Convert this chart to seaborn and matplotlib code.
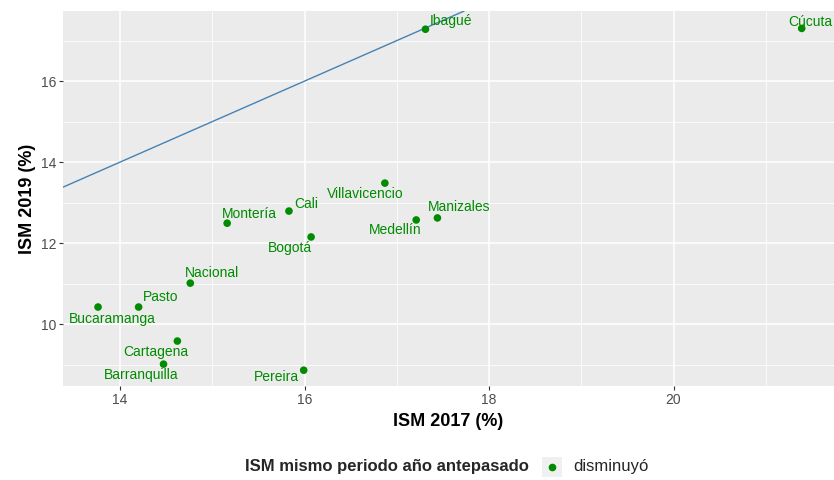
import matplotlib
matplotlib.use("Agg")
import matplotlib.pyplot as plt
from matplotlib.patches import Rectangle
from matplotlib.lines import Line2D
import seaborn as sns
import pandas as pd

# data
ciudades = ["Ibagué", "Cúcuta", "Villavicencio", "Cali", "Montería", "Bogotá",
            "Medellín", "Manizales", "Nacional", "Pasto", "Bucaramanga",
            "Cartagena", "Barranquilla", "Pereira"]
ism_2017 = [17.31, 21.39, 16.87, 15.83, 15.16, 16.07,
            17.21, 17.44, 14.76, 14.20, 13.76,
            14.62, 14.47, 15.99]
ism_2019 = [17.28, 17.30, 13.48, 12.79, 12.49, 12.15,
            12.57, 12.62, 11.01, 10.42, 10.42,
            9.58, 9.01, 8.86]
estado = ["disminuyó"] * len(ciudades)

# label offsets in pixels (ggrepel-like placement)
offsets = {
    "Ibagué": (26, 8), "Cúcuta": (9, 6), "Villavicencio": (-20, -11),
    "Cali": (17, 7), "Montería": (22, 9), "Bogotá": (-21, -11),
    "Medellín": (-21, -10), "Manizales": (22, 11), "Nacional": (22, 10),
    "Pasto": (22, 10), "Bucaramanga": (14, -12), "Cartagena": (-22, -11),
    "Barranquilla": (-22, -11), "Pereira": (-27, -7),
}

df = pd.DataFrame({"ciudad": ciudades, "ism_2017": ism_2017,
                   "ism_2019": ism_2019, "estado": estado})

verde = "#008B00"

sns.set_theme(style="darkgrid", rc={
    "axes.facecolor": "#EBEBEB",
    "grid.color": "white",
    "axes.edgecolor": "#EBEBEB",
    "xtick.color": "#333333",
    "ytick.color": "#333333",
    "xtick.bottom": True,
    "ytick.left": True,
    "xtick.major.size": 3,
    "ytick.major.size": 3,
    "xtick.major.width": 0.8,
    "ytick.major.width": 0.8,
})
plt.rcParams["font.family"] = ["Liberation Sans", "DejaVu Sans"]

fig, ax = plt.subplots(figsize=(8.34, 4.8), dpi=100)
fig.subplots_adjust(left=63 / 834, right=1.0, top=1 - 11 / 480, bottom=1 - 386 / 480)

ax.axline((14, 14), slope=1, color="#4682B4", lw=1.0, zorder=2)

sns.scatterplot(data=df, x="ism_2017", y="ism_2019", hue="estado",
                palette={"disminuyó": verde}, s=30, edgecolor="none",
                legend=False, ax=ax, zorder=3)

for _, r in df.iterrows():
    dx, dy = offsets[r["ciudad"]]
    ax.annotate(r["ciudad"], (r["ism_2017"], r["ism_2019"]),
                xytext=(dx, dy), textcoords="offset pixels",
                ha="center", va="center", fontsize=10, color=verde, zorder=4)

ax.set_xlim(13.38, 21.74)
ax.set_ylim(8.47, 17.73)
ax.set_xticks([14, 16, 18, 20])
ax.set_yticks([10, 12, 14, 16])
ax.set_xticks([15, 17, 19, 21], minor=True)
ax.set_yticks([9, 11, 13, 15, 17], minor=True)
ax.grid(which="major", color="white", lw=1.1)
ax.grid(which="minor", color="white", lw=0.55)
ax.tick_params(which="minor", length=0)
ax.tick_params(axis="both", labelsize=10, labelcolor="#4D4D4D", pad=2)
for s in ax.spines.values():
    s.set_visible(False)

ax.set_xlabel("ISM 2017 (%)", fontsize=13, fontweight="bold", color="black")
ax.set_ylabel("ISM 2019 (%)", fontsize=13, fontweight="bold", color="black")
ax.xaxis.set_label_coords(0.5, -(413 - 386) / 375)
ax.yaxis.set_label_coords(-(63 - 36) / 771, 0.5)

# legend at the bottom, title to the left of the key
fig.text(245 / 834, 1 - 467 / 480, "ISM mismo periodo año antepasado",
         fontsize=12, fontweight="bold", ha="left", va="center")
fig.patches.append(Rectangle((542 / 834, 1 - 477 / 480), 20 / 834, 20 / 480,
                             transform=fig.transFigure, facecolor="#F0F0F0",
                             edgecolor="none"))
fig.add_artist(Line2D([552 / 834], [1 - 467 / 480], marker="o", color=verde,
                      markersize=4.5, transform=fig.transFigure, lw=0))
fig.text(573 / 834, 1 - 467 / 480, "disminuyó", fontsize=12, ha="left", va="center")

fig.savefig("out.png", dpi=100)
